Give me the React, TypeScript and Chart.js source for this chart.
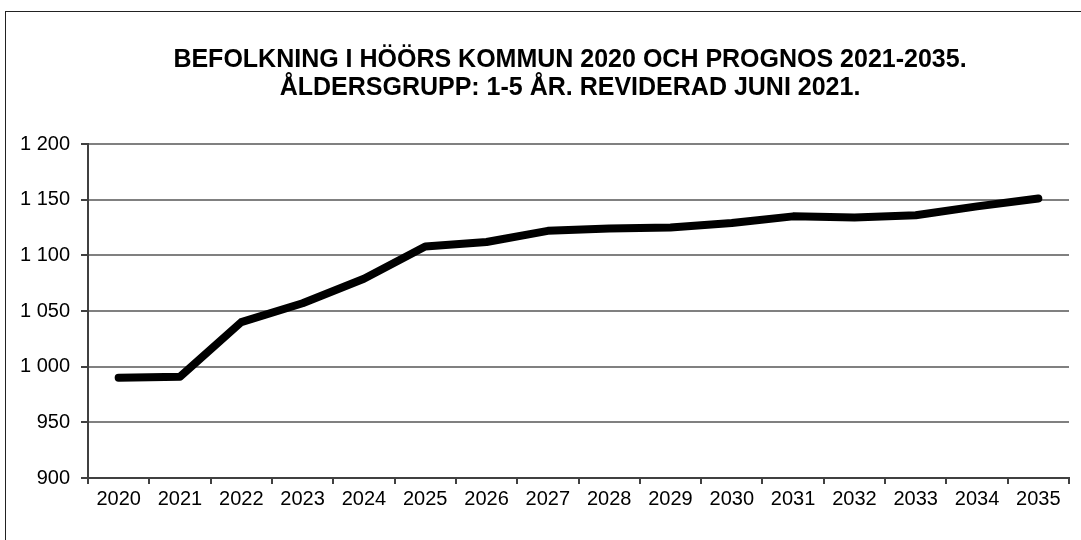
import React, { useEffect, useRef } from "react";
import { Chart, registerables } from "chart.js";

Chart.register(...registerables);

const years = ["2020","2021","2022","2023","2024","2025","2026","2027","2028","2029","2030","2031","2032","2033","2034","2035"];
const population = [990, 991, 1040, 1057, 1079, 1108, 1112, 1122, 1124, 1125, 1129, 1135, 1134, 1136, 1144, 1151];
const titleLines = [
  "BEFOLKNING I HÖÖRS KOMMUN 2020 OCH PROGNOS 2021-2035.",
  "ÅLDERSGRUPP: 1-5 ÅR. REVIDERAD JUNI 2021.",
];
const yMin = 900;
const yMax = 1200;
const yStep = 50;

const fmt = (v: number) => {
  const s = Math.round(v).toString();
  return s.replace(/\B(?=(\d{3})+(?!\d))/g, " ");
};

const titleShift = {
  id: "titleShift",
  afterLayout(chart: any) {
    if (chart.titleBlock) {
      chart.titleBlock.left = 71;
    }
  },
};

export default function App() {
  const ref = useRef<HTMLCanvasElement>(null);
  useEffect(() => {
    if (!ref.current) return;
    const chart = new Chart(ref.current, {
      type: "line",
      data: {
        labels: years,
        datasets: [
          {
            data: population,
            borderColor: "#000",
            borderWidth: 8,
            pointRadius: 0,
            borderCapStyle: "round",
            borderJoinStyle: "round",
            tension: 0,
            fill: false,
          },
        ],
      },
      plugins: [titleShift],
      options: {
        responsive: false,
        animation: false,
        layout: { padding: { left: 0, right: 12, top: 0, bottom: 0 } },
        plugins: {
          legend: { display: false },
          tooltip: { enabled: false },
          title: {
            display: true,
            text: titleLines,
            color: "#000",
            font: { family: "'Liberation Sans', Arial, sans-serif", size: 25, weight: "bold", lineHeight: 28 / 25 },
            padding: { top: 46, bottom: 42 },
          },
        },
        scales: {
          x: {
            offset: true,
            afterFit: (s: any) => { s.height = 62; },
            grid: {
              offset: true,
              drawOnChartArea: true,
              color: (ctx: any) => (ctx.index === years.length ? "#808080" : "rgba(0,0,0,0)"),
              tickColor: "#404040",
              tickLength: 6,
              lineWidth: 2,
            },
            border: { display: true, color: "#404040", width: 2 },
            ticks: {
              color: "#000",
              padding: 3,
              maxRotation: 0,
              autoSkip: false,
              font: { family: "'Liberation Sans', Arial, sans-serif", size: 20 },
            },
          },
          y: {
            min: yMin,
            max: yMax,
            afterFit: (s: any) => { s.width = 88; },
            grid: {
              color: "#808080",
              lineWidth: 2,
              tickColor: "#404040",
              tickLength: 7,
            },
            border: { display: true, color: "#404040", width: 2 },
            ticks: {
              stepSize: yStep,
              color: "#000",
              padding: 11,
              font: { family: "'Liberation Sans', Arial, sans-serif", size: 20 },
              callback: (v: any) => fmt(Number(v)),
            },
          },
        },
      },
    });
    return () => chart.destroy();
  }, []);

  return (
    <div style={{ position: "fixed", left: 0, top: 0, width: 1081, height: 540, overflow: "hidden", background: "#fff" }}>
      <div style={{ position: "absolute", left: 5, top: 11, width: 1200, height: 700, borderLeft: "1.5px solid #222", borderTop: "1.5px solid #222" }} />
      <canvas ref={ref} width={1081} height={540} style={{ position: "absolute", left: 0, top: 0, display: "block" }} />
    </div>
  );
}
